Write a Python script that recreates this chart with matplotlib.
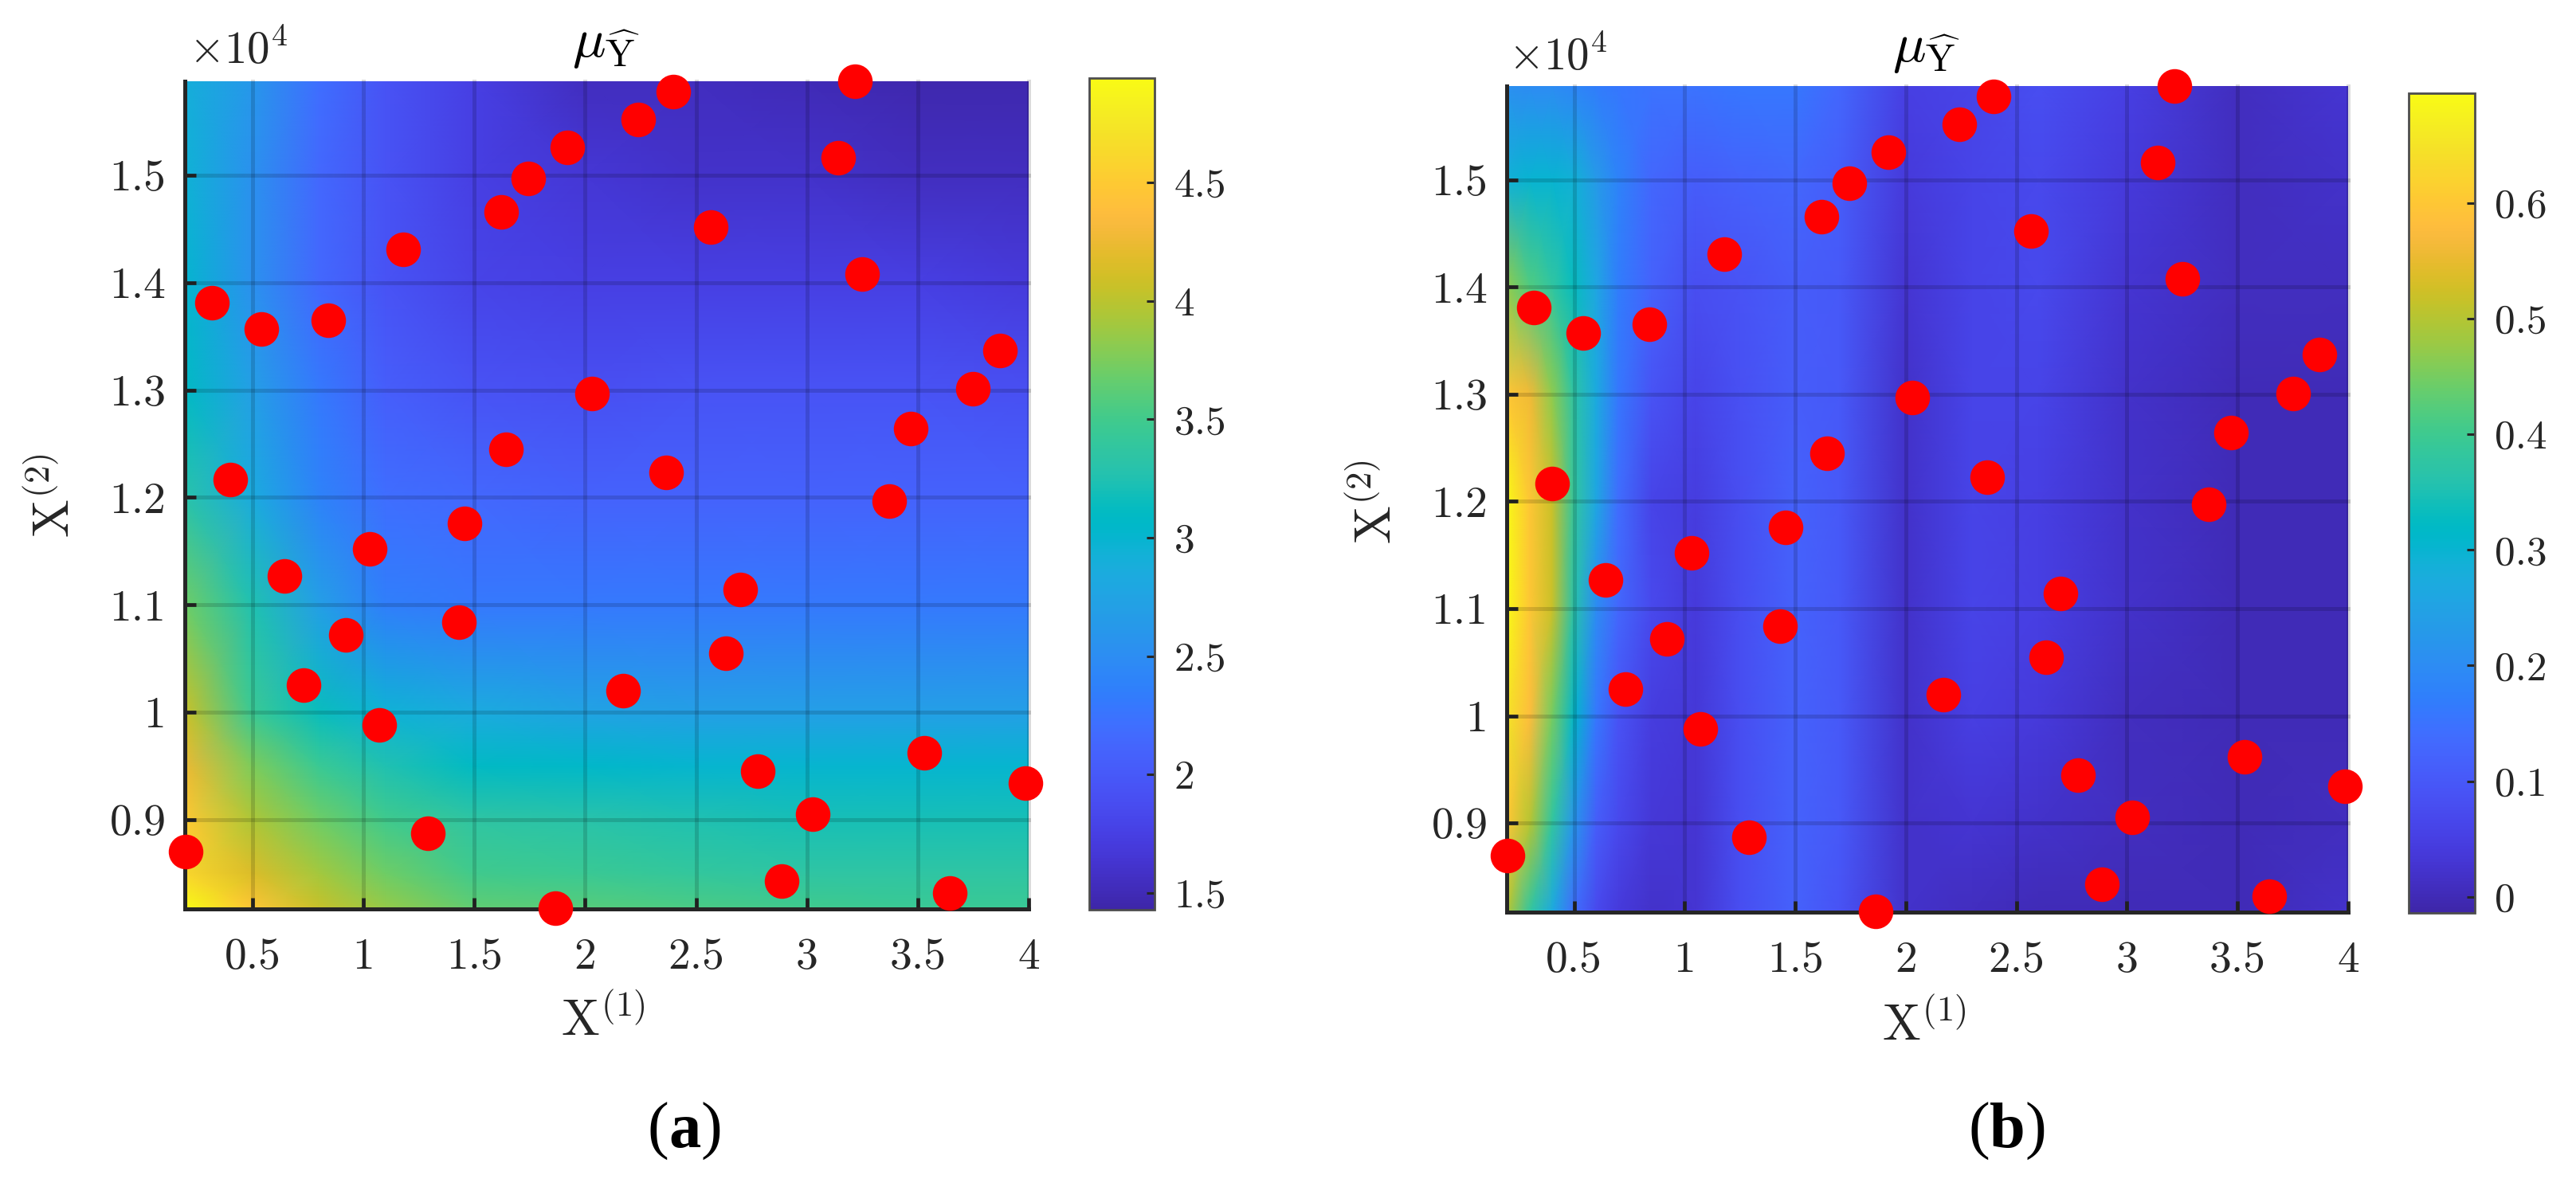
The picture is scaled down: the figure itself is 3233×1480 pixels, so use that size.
import numpy as np
import matplotlib
matplotlib.use("Agg")
import matplotlib.pyplot as plt
from matplotlib.colors import LinearSegmentedColormap

plt.rcParams['font.family'] = ['cmr10', 'DejaVu Serif']
plt.rcParams['mathtext.fontset'] = 'cm'
plt.rcParams['axes.unicode_minus'] = False
plt.rcParams['axes.formatter.use_mathtext'] = True

W, H = 3233, 1480

parula_colors = [
    (0.2422,0.1504,0.6603),(0.2504,0.1650,0.7076),(0.2578,0.1818,0.7511),(0.2647,0.1978,0.7952),
    (0.2706,0.2147,0.8364),(0.2751,0.2342,0.8710),(0.2783,0.2559,0.8991),(0.2803,0.2782,0.9221),
    (0.2813,0.3006,0.9414),(0.2810,0.3228,0.9579),(0.2795,0.3447,0.9717),(0.2760,0.3667,0.9829),
    (0.2699,0.3892,0.9906),(0.2602,0.4123,0.9952),(0.2440,0.4358,0.9988),(0.2206,0.4603,0.9973),
    (0.1963,0.4847,0.9892),(0.1834,0.5074,0.9798),(0.1786,0.5289,0.9682),(0.1764,0.5499,0.9520),
    (0.1687,0.5703,0.9359),(0.1540,0.5902,0.9218),(0.1460,0.6091,0.9079),(0.1380,0.6276,0.8973),
    (0.1248,0.6459,0.8883),(0.1113,0.6635,0.8763),(0.0952,0.6798,0.8598),(0.0689,0.6948,0.8394),
    (0.0297,0.7082,0.8163),(0.0036,0.7203,0.7917),(0.0067,0.7312,0.7660),(0.0433,0.7411,0.7394),
    (0.0964,0.7500,0.7120),(0.1408,0.7584,0.6842),(0.1717,0.7670,0.6554),(0.1938,0.7758,0.6251),
    (0.2161,0.7843,0.5923),(0.2470,0.7918,0.5567),(0.2906,0.7973,0.5188),(0.3406,0.8008,0.4789),
    (0.3909,0.8029,0.4354),(0.4456,0.8024,0.3909),(0.5044,0.7993,0.3480),(0.5616,0.7942,0.3045),
    (0.6174,0.7876,0.2612),(0.6720,0.7793,0.2227),(0.7242,0.7698,0.1910),(0.7738,0.7598,0.1646),
    (0.8203,0.7498,0.1535),(0.8634,0.7406,0.1596),(0.9035,0.7330,0.1774),(0.9393,0.7288,0.2100),
    (0.9728,0.7298,0.2394),(0.9956,0.7434,0.2371),(0.9970,0.7659,0.2199),(0.9952,0.7861,0.1991),
    (0.9892,0.8135,0.1885),(0.9786,0.8386,0.1766),(0.9676,0.8639,0.1643),(0.9610,0.8890,0.1537),
    (0.9597,0.9135,0.1423),(0.9628,0.9373,0.1265),(0.9691,0.9606,0.1064),(0.9769,0.9839,0.0805)]
parula = LinearSegmentedColormap.from_list('parula', parula_colors, N=256)

# Sample points
points_x = [0.20,0.317,0.54,0.84,1.18,1.62,1.744,1.92,2.24,2.396,3.215,3.14,2.566,3.25,3.87,3.75,3.47,3.37,2.366,2.03,
            1.644,1.455,1.03,0.399,0.643,0.921,0.732,1.07,1.43,2.17,2.70,2.633,2.78,3.025,3.53,3.985,2.885,3.645,1.29,1.865]
points_y = [0.87,1.381,1.357,1.365,1.431,1.466,1.497,1.526,1.552,1.578,1.5875,1.516,1.452,1.408,1.337,1.301,1.264,1.197,1.223,1.297,
            1.245,1.176,1.152,1.217,1.127,1.072,1.025,0.988,1.084,1.02,1.114,1.055,0.945,0.905,0.962,0.934,0.843,0.832,0.887,0.8175]

# Panel (a) surface
a_x = [0.195,0.5,0.8,1.1,1.5,2.0,2.5,3.0,3.5,4.0]
a_y = [0.8169,0.85,0.9,0.95,1.0,1.1,1.2,1.3,1.4,1.5,1.5875]
a_z = [
    [4.94,4.45,4.05,3.85,3.65,3.60,3.55,3.50,3.45,3.45],
    [4.60,4.15,3.90,3.70,3.50,3.45,3.40,3.35,3.35,3.35],
    [4.50,3.95,3.70,3.50,3.35,3.30,3.25,3.20,3.20,3.20],
    [4.25,3.75,3.45,3.25,3.10,3.05,3.00,3.00,3.00,3.00],
    [4.05,3.45,3.15,2.95,2.85,2.75,2.70,2.70,2.70,2.70],
    [3.70,3.25,2.70,2.35,2.30,2.30,2.30,2.30,2.30,2.30],
    [3.30,2.85,2.40,2.20,2.15,2.10,2.10,2.10,2.10,2.10],
    [3.10,2.70,2.30,2.05,1.95,1.90,1.95,1.95,1.95,1.90],
    [3.00,2.55,2.15,1.95,1.80,1.75,1.75,1.75,1.75,1.70],
    [2.95,2.55,2.15,1.95,1.75,1.65,1.60,1.60,1.55,1.55],
    [2.90,2.60,2.20,1.95,1.75,1.55,1.55,1.50,1.47,1.47],
]

# Panel (b) surface
b_x = [0.195,0.3,0.4,0.5,0.6,0.7,0.85,1.05,1.25,1.5,1.7,2.0,2.3,2.6,3.0,3.5,4.0]
b_y = [0.8169,0.9,1.0,1.1,1.2,1.3,1.4,1.5,1.5875]
b_z = [
    [.50,.38,.27,.14,.07,.04,.02,.03,.08,.12,.09,.02,.01,.00,.00,.00,.02],
    [.60,.50,.38,.22,.11,.07,.035,.03,.08,.12,.10,.02,.03,.02,.01,.00,.01],
    [.65,.58,.45,.31,.16,.09,.045,.035,.08,.12,.10,.02,.05,.04,.01,.00,.00],
    [.69,.60,.52,.36,.20,.13,.07,.04,.08,.12,.10,.02,.06,.05,.02,.00,.00],
    [.69,.60,.52,.38,.26,.14,.06,.045,.08,.12,.10,.02,.06,.05,.02,.00,.00],
    [.60,.56,.47,.37,.27,.16,.09,.06,.085,.11,.10,.02,.06,.06,.02,.00,.00],
    [.47,.42,.38,.33,.26,.17,.12,.08,.09,.11,.10,.03,.06,.07,.03,.01,.01],
    [.29,.30,.30,.29,.23,.18,.13,.11,.12,.13,.11,.04,.06,.07,.04,.01,.02],
    [.21,.20,.20,.19,.17,.16,.15,.15,.16,.16,.13,.05,.06,.08,.05,.01,.03],
]

x_ticks = [0.5,1,1.5,2,2.5,3,3.5,4]
x_labels = ['0.5','1','1.5','2','2.5','3','3.5','4']
y_ticks = [0.9,1.0,1.1,1.2,1.3,1.4,1.5]
y_labels = ['0.9','1','1.1','1.2','1.3','1.4','1.5']
a_cb_ticks = [1.5,2,2.5,3,3.5,4,4.5]
a_cb_labels = ['1.5','2','2.5','3','3.5','4','4.5']
b_cb_ticks = [0,0.1,0.2,0.3,0.4,0.5,0.6]
b_cb_labels = ['0','0.1','0.2','0.3','0.4','0.5','0.6']

fig = plt.figure(figsize=(W/100, H/100), dpi=100, facecolor='white')
DARK = (0.15,0.15,0.15)

def box(x0, y0, x1, y1):
    return [x0/W, 1-y1/H, (x1-x0)/W, (y1-y0)/H]

def txt(x, y, s, **kw):
    fig.text(x/W, 1-y/H, s, **kw)

def panel(rect, cbrect, gx, gy, gz, clim, cbt, cbl):
    ax = fig.add_axes(box(*rect))
    m = ax.pcolormesh(gx, gy, np.array(gz), cmap=parula, vmin=clim[0], vmax=clim[1],
                      shading='gouraud', zorder=1)
    ax.set_xlim(0.195, 4.0)
    ax.set_ylim(0.8169, 1.5875)
    ax.set_xticks(x_ticks, x_labels)
    ax.set_yticks(y_ticks, y_labels)
    ax.tick_params(direction='in', length=10, width=3.4, color=DARK, labelsize=40,
                   labelcolor=DARK, top=False, right=False)
    ax.tick_params(axis='x', pad=26)
    ax.tick_params(axis='y', pad=17)
    for s in ('top','right'):
        ax.spines[s].set_visible(False)
    for s in ('left','bottom'):
        ax.spines[s].set_linewidth(3.6)
        ax.spines[s].set_color(DARK)
        ax.spines[s].set_zorder(4)
    for v in x_ticks:
        ax.axvline(v, color='k', alpha=0.14, lw=3.6, zorder=2, clip_on=False)
    for v in y_ticks:
        ax.axhline(v, color='k', alpha=0.14, lw=3.6, zorder=2, clip_on=False)
    ax.scatter(points_x, points_y, s=980, color='#ff0000', linewidths=0, zorder=5, clip_on=False)
    cax = fig.add_axes(box(*cbrect))
    cb = fig.colorbar(m, cax=cax)
    cb.set_ticks(cbt, labels=cbl)
    cb.ax.tick_params(direction='in', length=7, width=2.2, color=DARK, labelsize=37,
                      labelcolor=DARK, pad=18)
    cb.outline.set_linewidth(2.0)
    cb.outline.set_edgecolor((0.3,0.3,0.3))
    return ax

panel((232,102,1291,1141), (1367,98,1449,1142), a_x, a_y, a_z, (1.43,4.94), a_cb_ticks, a_cb_labels)
panel((1891,108,2947,1145), (3023,117,3106,1146), b_x, b_y, b_z, (-0.014,0.695), b_cb_ticks, b_cb_labels)

def labels(x10, y10, xl, yl, ttl):
    txt(x10, y10, r'$\times 10^{4}$', fontsize=41, color=DARK, ha='left', va='baseline')
    txt(ttl[0], ttl[1], r'$\mu_{\widehat{\mathrm{Y}}}$', fontsize=50, color='k', ha='center', va='baseline')
    txt(xl[0], xl[1], r'$\mathrm{X}^{(1)}$', fontsize=46, color=DARK, ha='center', va='baseline')
    txt(yl[0], yl[1], r'$\mathrm{X}^{(2)}$', fontsize=46, color=DARK, ha='center', va='center', rotation=90)

labels(237, 80, (757,1300), (69,622), (760,72))
labels(1893, 88, (2415,1306), (1728,630), (2417,78))

def sub(x, y, letter):
    txt(x, y, '(', fontsize=58, family='Liberation Serif', color='k', ha='left', va='baseline')
    txt(x+27, y, letter, fontsize=58, family='Liberation Serif', weight='bold', color='k', ha='left', va='baseline')
    txt(x+27+(40 if letter=='a' else 44), y, ')', fontsize=58, family='Liberation Serif', color='k', ha='left', va='baseline')

sub(812, 1440, 'a')
sub(2470, 1440, 'b')

fig.savefig('out.png', dpi=100, facecolor='white')
